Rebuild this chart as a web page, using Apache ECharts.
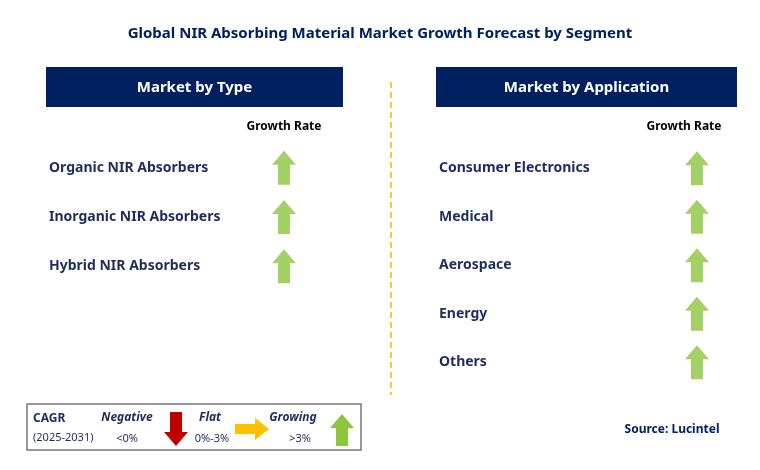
<!DOCTYPE html>
<html><head><meta charset="utf-8">
<script src="https://cdn.jsdelivr.net/npm/echarts@6/dist/echarts.min.js"></script>
<style>html,body{margin:0;padding:0;background:#fff}#c{width:760px;height:470px}</style>
</head><body><div id="c"></div>
<script>
const title = 'Global NIR Absorbing Material Market Growth Forecast by Segment';
const typeCategories = ['Organic NIR Absorbers', 'Inorganic NIR Absorbers', 'Hybrid NIR Absorbers'];
const typeGrowth = [1, 1, 1];
const appCategories = ['Consumer Electronics', 'Medical', 'Aerospace', 'Energy', 'Others'];
const appGrowth = [1, 1, 1, 1, 1];

const NAVY = '#002060', GREEN = '#8CC63F', TXT = '#1F2D5A';
const FONT = '"Noto Sans", "Open Sans", sans-serif';
const UP = 'path://M12,0 L24,14 L18,14 L18,34 L6,34 L6,14 L0,14 Z';

function poly(pts, ox, oy, fill){return {type:'polygon', shape:{points:pts.map(p=>[p[0]+ox,p[1]+oy])}, style:{fill:fill}};}
const DOWNP = [[6,0],[18,0],[18,20],[24,20],[12,34],[0,20],[6,20]];
const RIGHTP = [[0,6],[20,6],[20,0],[34,11],[20,22],[20,16],[0,16]];
const UPP = [[12,0],[24,14],[18,14],[18,32],[6,32],[6,14],[0,14]];

function yAx(i, cats) {
  return {type:'category', gridIndex:i, data:cats, inverse:true,
    axisLine:{show:false}, axisTick:{show:false}, splitLine:{show:false},
    axisLabel:{inside:true, align:'left', margin:0, color:TXT, fontWeight:'bold', fontSize:14, fontFamily:FONT}};
}
function xAx(i){return {type:'value', gridIndex:i, min:0, max:1, show:false};}
function sc(i, vals){return {type:'scatter', xAxisIndex:i, yAxisIndex:i, data:vals,
  symbol:UP, symbolSize:[24,34], itemStyle:{color:GREEN}, silent:true};}

const chart = echarts.init(document.getElementById('c'));
chart.setOption({
  animation:false,
  title:{text:title, left:'center', top:21, textStyle:{color:NAVY, fontSize:15, fontWeight:'bold', fontFamily:FONT}},
  grid:[{left:49, top:143, width:235, height:148}, {left:439, top:144, width:258, height:242.5}],
  xAxis:[xAx(0), xAx(1)],
  yAxis:[yAx(0, typeCategories), yAx(1, appCategories)],
  series:[sc(0, typeGrowth), sc(1, appGrowth)],
  graphic:[
    {type:'rect', shape:{x:46,y:67,width:297,height:40}, style:{fill:NAVY}},
    {type:'text', x:194.5, y:88, style:{text:'Market by Type', fill:'#fff', font:'bold 15px '+FONT, textAlign:'center', textVerticalAlign:'middle'}},
    {type:'rect', shape:{x:436,y:67,width:301,height:40}, style:{fill:NAVY}},
    {type:'text', x:586.5, y:88, style:{text:'Market by Application', fill:'#fff', font:'bold 15px '+FONT, textAlign:'center', textVerticalAlign:'middle'}},
    {type:'text', x:284, y:127, style:{text:'Growth Rate', fill:'#000', font:'bold 12px '+FONT, textAlign:'center', textVerticalAlign:'middle'}},
    {type:'text', x:684, y:127, style:{text:'Growth Rate', fill:'#000', font:'bold 12px '+FONT, textAlign:'center', textVerticalAlign:'middle'}},
    {type:'line', shape:{x1:391,y1:82,x2:391,y2:395}, style:{stroke:'#F5B800', lineWidth:1.5, lineDash:[6,4]}},
    {type:'rect', shape:{x:27,y:404,width:334,height:46}, style:{fill:'#fff', stroke:'#777', lineWidth:1.5}},
    {type:'text', x:33, y:419, style:{text:'CAGR', fill:TXT, font:'bold 12px '+FONT, textVerticalAlign:'middle'}},
    {type:'text', x:33, y:438, style:{text:'(2025-2031)', fill:TXT, font:'11px '+FONT, textVerticalAlign:'middle'}},
    {type:'text', x:127, y:418, style:{text:'Negative', fill:TXT, font:'italic bold 12px '+FONT, textAlign:'center', textVerticalAlign:'middle'}},
    {type:'text', x:127, y:439, style:{text:'<0%', fill:TXT, font:'11px '+FONT, textAlign:'center', textVerticalAlign:'middle'}},
    poly(DOWNP, 164, 412, '#C00000'),
    {type:'text', x:210, y:418, style:{text:'Flat', fill:TXT, font:'italic bold 12px '+FONT, textAlign:'center', textVerticalAlign:'middle'}},
    {type:'text', x:212, y:439, style:{text:'0%-3%', fill:TXT, font:'11px '+FONT, textAlign:'center', textVerticalAlign:'middle'}},
    poly(RIGHTP, 235, 418, '#FFC000'),
    {type:'text', x:293, y:418, style:{text:'Growing', fill:TXT, font:'italic bold 12px '+FONT, textAlign:'center', textVerticalAlign:'middle'}},
    {type:'text', x:300, y:439, style:{text:'>3%', fill:TXT, font:'11px '+FONT, textAlign:'center', textVerticalAlign:'middle'}},
    poly(UPP, 330, 414, GREEN),
    {type:'text', x:672, y:430, style:{text:'Source: Lucintel', fill:NAVY, font:'bold 12px '+FONT, textAlign:'center', textVerticalAlign:'middle'}}
  ]
});
</script></body></html>
